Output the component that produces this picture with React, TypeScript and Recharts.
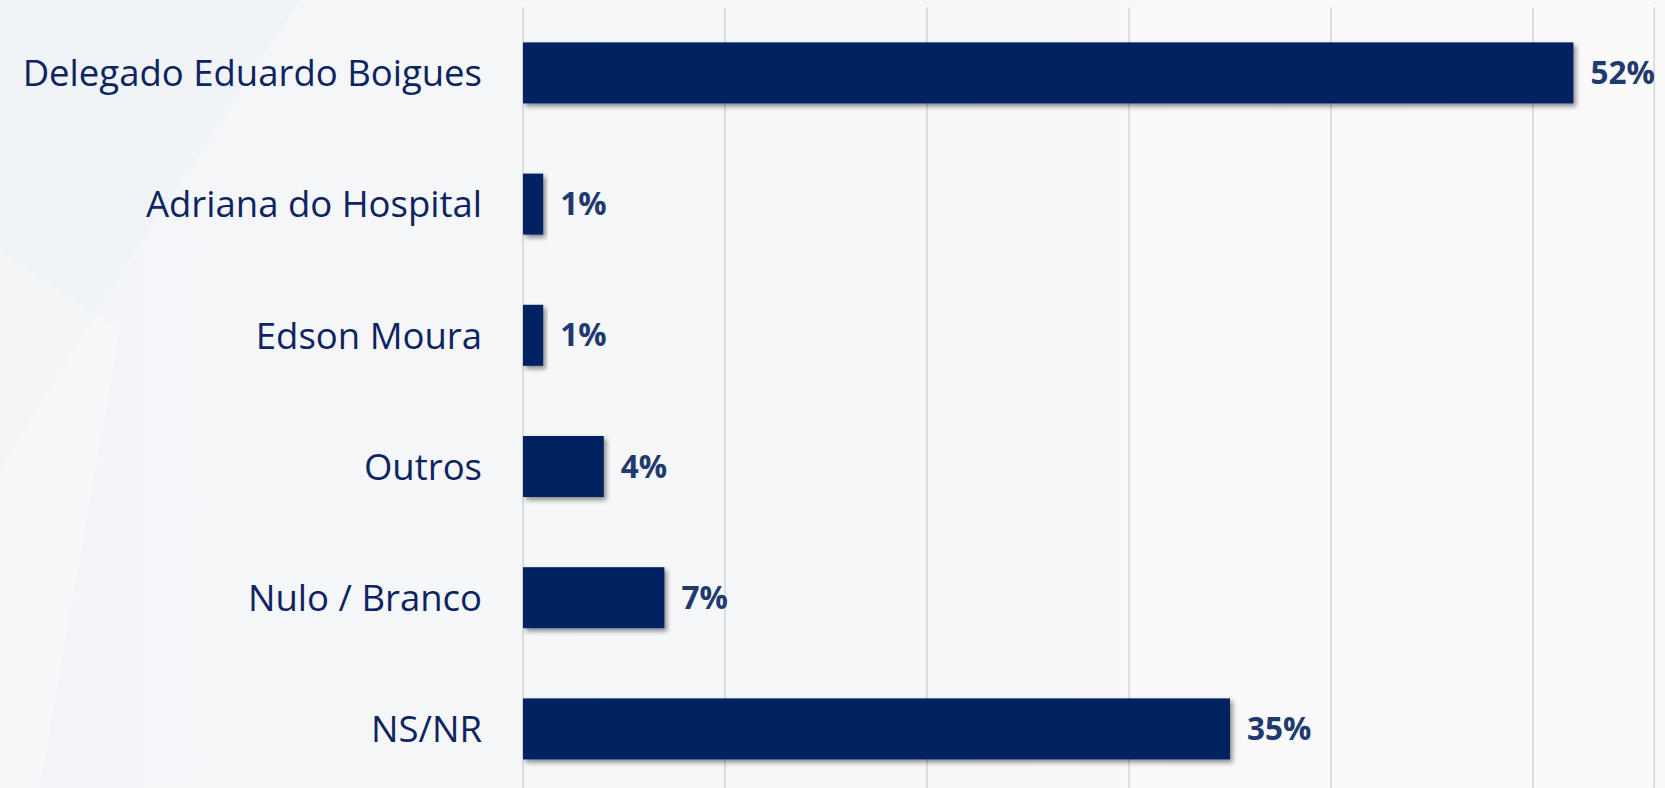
import React from "react";
import { BarChart, Bar, XAxis, YAxis, CartesianGrid, LabelList } from "recharts";

const candidates = [
  "Delegado Eduardo Boigues",
  "Adriana do Hospital",
  "Edson Moura",
  "Outros",
  "Nulo / Branco",
  "NS/NR",
];
const shares = [52, 1, 1, 4, 7, 35];
const gridTicks = [0, 10, 20, 30, 40, 50];

const data = candidates.map((name, i) => ({ name, value: shares[i] }));

const CategoryTick = (props: any) => {
  const { x, y, payload } = props;
  return (
    <text
      x={x}
      y={y}
      dy="0.36em"
      textAnchor="end"
      fill="#0d2462"
      fontFamily="'Open Sans', sans-serif"
      fontSize={36.5}
    >
      {payload.value}
    </text>
  );
};

const ShadowBar = (props: any) => {
  const { x, y, width, height } = props;
  if (!width || width <= 0) return null;
  return <rect x={x} y={y} width={width} height={height} fill="#002060" filter="url(#barShadow)" />;
};

export default function App() {
  return (
    <div
      style={{
        position: "fixed",
        top: 0,
        left: 0,
        width: 1665,
        height: 788,
        overflow: "hidden",
        background: "linear-gradient(90deg, #f3f5f8 0%, #f6f7f9 35%, #fafafa 100%)",
      }}
    >
      {/* faint backdrop shapes on the left */}
      <svg width={1665} height={788} style={{ position: "absolute", top: 0, left: 0 }}>
        <polygon points="0,0 300,0 110,290 0,470" fill="#edf1f5" opacity={0.45} />
        <polygon points="0,250 120,330 40,788 0,788" fill="#ffffff" opacity={0.2} />
      </svg>
      <div style={{ position: "absolute", top: 0, left: 0 }}>
        <BarChart
          width={1665}
          height={800}
          data={data}
          layout="vertical"
          margin={{ top: 7.4, right: 10.8, bottom: 5.4, left: 0 }}
        >
          <defs>
            <filter id="barShadow" x="-10%" y="-20%" width="130%" height="160%">
              <feDropShadow dx={2.5} dy={3} stdDeviation={2.5} floodColor="#000000" floodOpacity={0.45} />
            </filter>
          </defs>
          <CartesianGrid horizontal={false} stroke="#d6d6d6" strokeWidth={1.6} />
          <XAxis type="number" domain={[0, 56]} ticks={gridTicks} hide />
          <YAxis
            type="category"
            dataKey="name"
            width={523}
            axisLine={false}
            tickLine={false}
            tickSize={0}
            tickMargin={41}
            interval={0}
            tick={<CategoryTick />}
          />
          <Bar dataKey="value" barSize={61} shape={<ShadowBar />} isAnimationActive={false}>
            <LabelList
              dataKey="value"
              position="right"
              offset={17}
              formatter={(v: any) => `${v}%`}
              fill="#1f3a6e"
              fontFamily="'Open Sans', sans-serif"
              fontWeight={700}
              fontSize={31.5}
            />
          </Bar>
        </BarChart>
      </div>
    </div>
  );
}
